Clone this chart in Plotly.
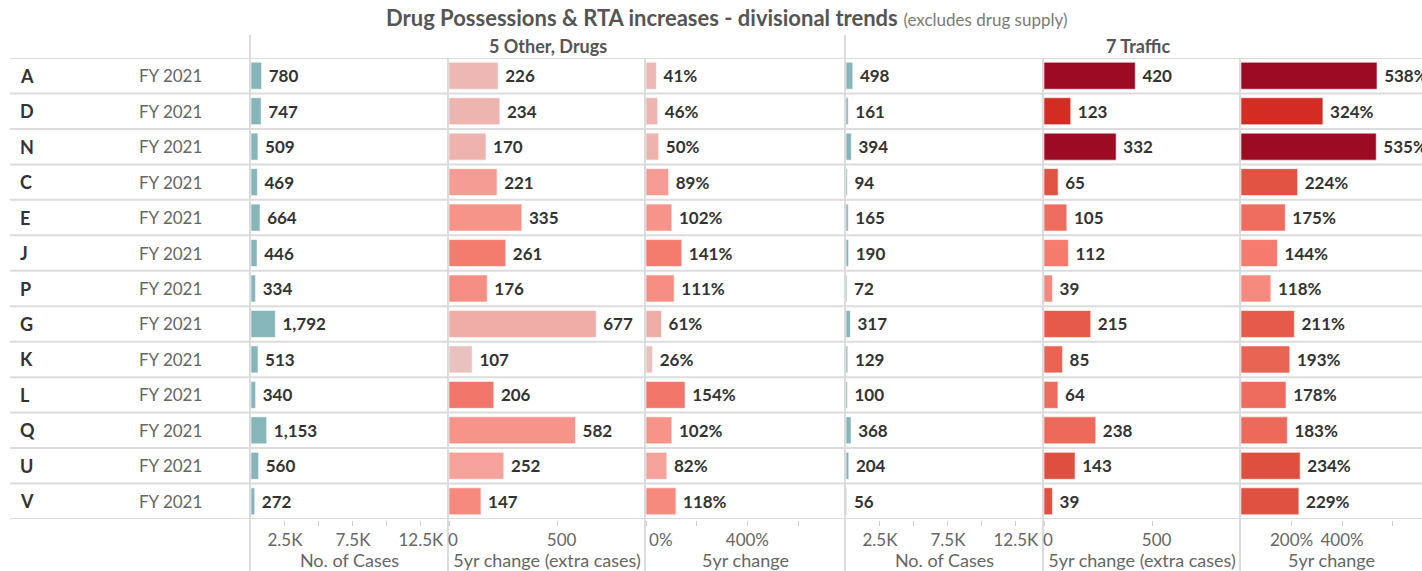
import plotly.graph_objects as go

# ---- data -------------------------------------------------------------
divisions = ["A", "D", "N", "C", "E", "J", "P", "G", "K", "L", "Q", "U", "V"]
period = "FY 2021"

drug_cases = [780, 747, 509, 469, 664, 446, 334, 1792, 513, 340, 1153, 560, 272]
drug_extra = [226, 234, 170, 221, 335, 261, 176, 677, 107, 206, 582, 252, 147]
drug_pct = [41, 46, 50, 89, 102, 141, 111, 61, 26, 154, 102, 82, 118]

traffic_cases = [498, 161, 394, 94, 165, 190, 72, 317, 129, 100, 368, 204, 56]
traffic_extra = [420, 123, 332, 65, 105, 112, 39, 215, 85, 64, 238, 143, 39]
traffic_pct = [538, 324, 535, 224, 175, 144, 118, 211, 193, 178, 183, 234, 229]

FIG_SP = "\u2007"  # figure space, nudges the first label clear of the divider
case_ticks = [2500, 5000, 7500, 10000, 12500]
case_ticktext = ["2.5K", "", "7.5K", "", "12.5K"]
extra_ticks = [0, 500]
extra_ticktext = ["0", "500"]
drug_pct_ticks = [0, 200, 400, 600]
drug_pct_ticktext = [FIG_SP * 3 + "0%", "", "400%", ""]
traffic_pct_ticks = [200, 400, 600]
traffic_pct_ticktext = ["200%", "400%", ""]

# ---- styling ----------------------------------------------------------
W, H = 1422, 571
FONT = "Lato, 'Open Sans', sans-serif"
TEAL = "#86B5BA"
GRID = "#DCDCDC"
DARK = "#333333"
GREY = "#666666"

# red sequential scale keyed on the percentage change
pct_stops = [
    (0, "#E6CDCD"), (26, "#E9C2C0"), (45, "#EEB5B1"), (61, "#F0ADA7"),
    (85, "#F4A098"), (102, "#F79489"), (118, "#F68A7E"), (141, "#F47C6F"),
    (155, "#F2756A"), (180, "#EE6B5C"), (211, "#E55A4A"), (232, "#DF5040"),
    (324, "#D42B23"), (540, "#9C0A23"),
]
PCT_MAX = 540
red_scale = [[v / PCT_MAX, c] for v, c in pct_stops]


def px(x):
    return x / W


def py(y):
    return 1 - y / H


ROW_TOP, ROW_BOTTOM = 58, 519
AXIS_Y = 520

# panel pixel extents and value ranges
panels = [
    dict(x0=251, x1=448, rng=[0, 14500], tv=case_ticks, tt=case_ticktext, shift=0, title="No. of Cases"),
    dict(x0=449, x1=645, rng=[0, 902], tv=extra_ticks, tt=extra_ticktext, shift=4, title="5yr change (extra cases)"),
    dict(x0=646, x1=845, rng=[0, 785], tv=drug_pct_ticks, tt=drug_pct_ticktext, shift=0, title="5yr change"),
    dict(x0=846, x1=1043, rng=[0, 14500], tv=case_ticks, tt=case_ticktext, shift=0, title="No. of Cases"),
    dict(x0=1044, x1=1240, rng=[0, 902], tv=extra_ticks, tt=extra_ticktext, shift=4, title="5yr change (extra cases)"),
    dict(x0=1241, x1=1422, rng=[0, 716], tv=traffic_pct_ticks, tt=traffic_pct_ticktext, shift=0, title="5yr change"),
]

fig = go.Figure()

NBSP = "\u00a0"


def add_bars(i, values, labels, color, pct=None):
    marker = dict(line=dict(width=0.8, color="rgba(255,255,255,0.7)"))
    if pct is None:
        marker["color"] = color
    else:
        marker.update(color=pct, colorscale=red_scale, cmin=0, cmax=PCT_MAX)
    fig.add_trace(go.Bar(
        x=values, y=divisions, orientation="h",
        xaxis="x" if i == 1 else f"x{i}", yaxis="y",
        marker=marker, width=0.76,
        text=[NBSP + t for t in labels], textposition="outside",
        constraintext="none", cliponaxis=False,
        textfont=dict(family=FONT, size=17, color=DARK, weight="bold"),
        showlegend=False, hoverinfo="x+y",
    ))


add_bars(1, drug_cases, [f"{v:,}" for v in drug_cases], TEAL)
add_bars(2, drug_extra, [f"{v:,}" for v in drug_extra], None, drug_pct)
add_bars(3, drug_pct, [f"{v}%" for v in drug_pct], None, drug_pct)
add_bars(4, traffic_cases, [f"{v:,}" for v in traffic_cases], TEAL)
add_bars(5, traffic_extra, [f"{v:,}" for v in traffic_extra], None, traffic_pct)
add_bars(6, traffic_pct, [f"{v}%" for v in traffic_pct], None, traffic_pct)

layout = dict(
    width=W, height=H,
    margin=dict(l=0, r=0, t=0, b=0, pad=0, autoexpand=False),
    paper_bgcolor="white", plot_bgcolor="white",
    font=dict(family=FONT, color=GREY),
    yaxis=dict(
        domain=[py(ROW_BOTTOM), py(ROW_TOP)],
        type="category", categoryorder="array", categoryarray=divisions,
        range=[len(divisions) - 0.5, -0.5],
        showticklabels=False, showgrid=False, zeroline=False, showline=False,
        automargin=False, fixedrange=True,
    ),
)

for i, p in enumerate(panels, start=1):
    key = "xaxis" if i == 1 else f"xaxis{i}"
    layout[key] = dict(
        domain=[px(p["x0"]), px(p["x1"])],
        range=p["rng"],
        anchor="free", position=py(AXIS_Y),
        tickmode="array", tickvals=p["tv"], ticktext=p["tt"],
        ticks="outside", ticklen=5, tickwidth=1, tickcolor="#CFCFCF",
        ticklabelshift=p["shift"],
        tickfont=dict(family=FONT, size=17, color=GREY),
        showgrid=False, zeroline=False, showline=False,
        title=dict(text=p["title"], font=dict(family=FONT, size=18, color=GREY), standoff=3),
        automargin=False, fixedrange=True,
    )

fig.update_layout(**layout)

# ---- grid lines -------------------------------------------------------
shapes = []
# row separators
for k in range(len(divisions) + 1):
    shapes.append(dict(
        type="line", xref="paper", yref="y",
        x0=px(10), x1=1, y0=k - 0.5, y1=k - 0.5,
        line=dict(color=GRID, width=2), layer="below",
    ))
# group dividers (reach into the header row)
for xp in (250, 845):
    shapes.append(dict(
        type="line", xref="paper", yref="paper",
        x0=px(xp), x1=px(xp), y0=0, y1=py(35),
        line=dict(color=GRID, width=2), layer="below",
    ))
# measure dividers inside each group
for xp in (448, 645, 1043, 1240):
    shapes.append(dict(
        type="line", xref="paper", yref="paper",
        x0=px(xp), x1=px(xp), y0=0, y1=py(ROW_TOP),
        line=dict(color=GRID, width=2), layer="below",
    ))
fig.update_layout(shapes=shapes)

# ---- text -------------------------------------------------------------
ann = []
ann.append(dict(
    xref="paper", yref="paper", x=px(726), y=py(18), xanchor="center", yanchor="middle",
    text="<b>Drug Possessions &amp; RTA increases - divisional trends</b> "
         "<span style='font-size:17px;color:#7a7a7a'>(excludes drug supply)</span>",
    showarrow=False, font=dict(family=FONT, size=22, color="#555555"),
))
ann.append(dict(
    xref="paper", yref="paper", x=px(548), y=py(46), xanchor="center", yanchor="middle",
    text="<b>5 Other, Drugs</b>", showarrow=False,
    font=dict(family=FONT, size=18, color="#555555"),
))
ann.append(dict(
    xref="paper", yref="paper", x=px(1138), y=py(46), xanchor="center", yanchor="middle",
    text="<b>7 Traffic</b>", showarrow=False,
    font=dict(family=FONT, size=18, color="#555555"),
))
for d in divisions:
    ann.append(dict(
        xref="paper", yref="y", x=px(18), y=d, xanchor="left", yanchor="middle",
        text=f"<b>{d}</b>", showarrow=False,
        font=dict(family=FONT, size=18, color=DARK),
    ))
    ann.append(dict(
        xref="paper", yref="y", x=px(137), y=d, xanchor="left", yanchor="middle",
        text=period, showarrow=False,
        font=dict(family=FONT, size=17, color=GREY),
    ))
fig.update_layout(annotations=ann)

fig.write_html("out.html")
